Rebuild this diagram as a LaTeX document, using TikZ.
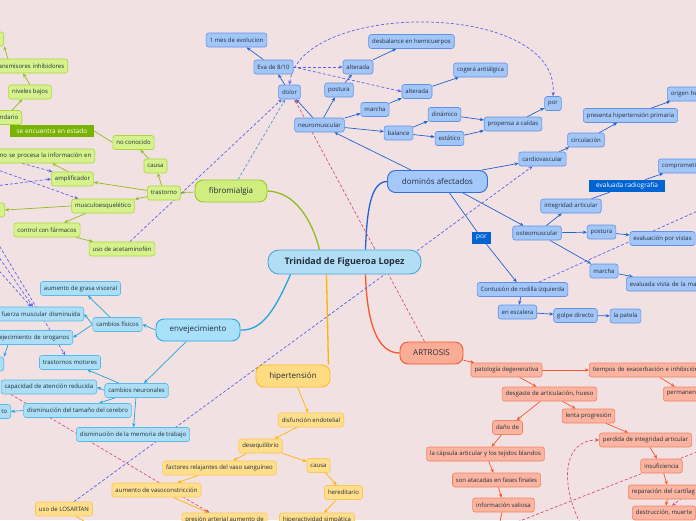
\documentclass[tikz,border=0pt]{standalone}
\usepackage{fontspec}
\setmainfont{Open Sans}
\usepackage{tikz}
\usetikzlibrary{positioning, arrows.meta}
\definecolor{bgpink}{RGB}{242,225,226}
\definecolor{inktext}{RGB}{35,45,60}
\definecolor{rootfill}{RGB}{178,222,245}
\definecolor{rootedge}{RGB}{70,165,225}
\definecolor{fibfill}{RGB}{208,238,128}
\definecolor{fibedge}{RGB}{150,200,40}
\definecolor{fibleaf}{RGB}{214,242,140}
\definecolor{fibleafedge}{RGB}{170,215,60}
\definecolor{fibline}{RGB}{140,190,30}
\definecolor{domfill}{RGB}{165,200,250}
\definecolor{domedge}{RGB}{50,110,220}
\definecolor{domleaf}{RGB}{162,198,248}
\definecolor{domleafedge}{RGB}{95,145,228}
\definecolor{domline}{RGB}{30,100,210}
\definecolor{envfill}{RGB}{168,224,250}
\definecolor{envedge}{RGB}{40,170,230}
\definecolor{envleaf}{RGB}{172,222,246}
\definecolor{envleafedge}{RGB}{90,185,232}
\definecolor{envline}{RGB}{30,165,225}
\definecolor{hipfill}{RGB}{255,220,130}
\definecolor{hipedge}{RGB}{255,185,40}
\definecolor{hipleaf}{RGB}{255,222,140}
\definecolor{hipleafedge}{RGB}{250,200,90}
\definecolor{hipline}{RGB}{255,180,0}
\definecolor{artfill}{RGB}{250,172,148}
\definecolor{artedge}{RGB}{240,90,50}
\definecolor{artleaf}{RGB}{250,180,160}
\definecolor{artleafedge}{RGB}{240,130,100}
\definecolor{artline}{RGB}{250,85,40}
\definecolor{dashblue}{RGB}{90,100,235}
\definecolor{dashteal}{RGB}{70,160,200}
\definecolor{dashred}{RGB}{215,80,120}
\definecolor{taggreen}{RGB}{120,180,0}
\definecolor{tagblue}{RGB}{0,100,210}
\pgfdeclarelayer{back}
\pgfdeclarelayer{links}
\pgfsetlayers{back,links,main}
\tikzset{>={Stealth[length=4pt,width=3.4pt]}, x=1pt, y=-1pt, cutl/.style={anchor=east, align=right, text width=#1}, cutr/.style={anchor=west, align=left, text width=#1}, link/.style={->, line width=0.7pt}, branch/.style={line width=1.3pt}, reldash/.style={dash pattern=on 3pt off 2pt, line width=0.7pt, dashblue}}
\tikzstyle{leaf}=[draw, rounded corners=2.5pt, line width=0.6pt, minimum height=14pt, inner xsep=3.5pt, inner ysep=1pt, font=\fontsize{6}{7}\selectfont, text=inktext]
\tikzstyle{gleaf}=[leaf, fill=fibleaf, draw=fibleafedge]
\tikzstyle{bleaf}=[leaf, fill=domleaf, draw=domleafedge]
\tikzstyle{cleaf}=[leaf, fill=envleaf, draw=envleafedge]
\tikzstyle{yleaf}=[leaf, fill=hipleaf, draw=hipleafedge]
\tikzstyle{rleaf}=[leaf, fill=artleaf, draw=artleafedge]
\tikzstyle{topic}=[draw, rounded corners=8pt, line width=0.9pt, minimum height=22pt, font=\fontsize{8}{9}\selectfont, text=inktext]
\tikzstyle{tag}=[minimum height=12pt, inner xsep=3pt, inner ysep=1pt, font=\fontsize{6.5}{7}\selectfont, text=white]
\tikzstyle{root}=[draw=rootedge, fill=rootfill, rounded corners=11pt, line width=0.9pt, minimum width=153pt, minimum height=24pt, font=\fontsize{9}{10}\selectfont\bfseries, text=inktext]

\begin{document}
\begin{tikzpicture}
\useasboundingbox (0,0) rectangle (696,520);
\begin{pgfonlayer}{back}
\fill[bgpink] (0,0) rectangle (696,520);
\end{pgfonlayer}
\node[root] (trinidad) at (344.5,262) {Trinidad de Figueroa Lopez};
\node[topic, fill=fibfill, draw=fibedge, minimum width=72pt] (fibromialgia) at (231,191) {fibromialgia};
\node[topic, fill=domfill, draw=domedge, minimum width=100pt] (dominos) at (437.5,181.5) {dominós afectados};
\node[topic, fill=envfill, draw=envedge, minimum width=84pt] (envejecimiento) at (198,330) {envejecimiento};
\node[topic, fill=hipfill, draw=hipedge, minimum width=74pt] (hipertension) at (293,376) {hipertensión};
\node[topic, fill=artfill, draw=artedge, minimum width=63pt] (artrosis) at (431.5,353) {ARTROSIS};
\node[gleaf] (trastorno) at (164,193) {trastorno};
\node[gleaf] (causaF) at (155.5,166) {causa};
\node[gleaf] (noconocido) at (133.5,142.5) {no conocido};
\node[tag, fill=taggreen, minimum width=84pt] (seencuentra) at (52,131) {se encuentra en estado};
\node[gleaf, cutl=30pt] (secundario) at (22,117.5) {ndario};
\node[gleaf] (niveles) at (30,92) {niveles bajos};
\node[gleaf, cutl=70pt] (transmisores) at (68,66) {ansmisores inhibidores};
\node[gleaf, cutl=30pt] (topleft) at (4,39) {};
\node[gleaf] (amplificador) at (72.5,179) {amplificador};
\node[gleaf, cutl=100pt] (comoprocesa) at (95,156) {mo se procesa la información en};
\node[gleaf] (musculo) at (103,206) {musculoesquelético};
\node[gleaf, cutl=30pt] (leftbox) at (5,210) {};
\node[gleaf] (control) at (47,230) {control con fármacos};
\node[gleaf] (acetaminofen) at (122,249) {uso de acetaminofén};
\node[bleaf] (neuromuscular) at (319.5,125) {neuromuscular};
\node[bleaf] (dolor) at (289.5,92) {dolor};
\node[bleaf] (eva) at (273.5,67) {Eva de 8/10};
\node[bleaf] (unmes) at (236.5,40) {1 mes de evolucion};
\node[bleaf] (postura) at (339,90) {postura};
\node[bleaf] (alterada1) at (358,67) {alterada};
\node[bleaf] (desbalance) at (411.5,41.5) {desbalance en hemicuerpos};
\node[bleaf] (marcha) at (375,109.5) {marcha};
\node[bleaf] (alterada2) at (417,91.5) {alterada};
\node[bleaf] (cogera) at (480.5,70) {cogerá antiálgica};
\node[bleaf] (balance) at (398.5,133) {balance};
\node[bleaf] (dinamico) at (444.5,114.5) {dinámico};
\node[bleaf] (estatico) at (449.5,138.5) {estático};
\node[bleaf] (propensa) at (513,124) {propensa a caídas};
\node[bleaf] (por) at (553,103.5) {por};
\node[bleaf] (cardiovascular) at (542.5,159) {cardiovascular};
\node[bleaf] (circulacion) at (586,140) {circulación};
\node[bleaf] (presenta) at (630.5,115.5) {presenta hipertensión primaria};
\node[bleaf, cutr=40pt] (origen) at (667,94) {origen he};
\node[bleaf, cutr=45pt] (comprometi) at (658,166) {comprometi};
\node[tag, fill=tagblue, minimum width=76pt] (radiografia) at (627,186) {evaluada radiografía};
\node[bleaf] (integridad) at (571,206) {integridad articular};
\node[bleaf] (osteomuscular) at (537,233) {osteomuscular};
\node[bleaf] (postura2) at (601.5,232) {postura};
\node[bleaf] (evalvistas) at (662.5,238.5) {evaluación por vistas};
\node[bleaf, cutr=80pt] (evalmarcha) at (626,284) {evaluada vista de la ma};
\node[bleaf] (marcha2) at (604,271) {marcha};
\node[tag, fill=tagblue, minimum width=19pt] (portag) at (481.5,238) {por};
\node[bleaf] (contusion) at (522.5,289.5) {Contusión de rodilla izquierda};
\node[bleaf] (escalera) at (517.5,312) {en escalera};
\node[bleaf] (golpe) at (575.5,315.5) {golpe directo};
\node[bleaf] (patela) at (625.5,316) {la patela};
\node[cleaf] (cambiosfis) at (117.5,324.5) {cambios físicos};
\node[cleaf] (grasa) at (80.5,288.5) {aumento de grasa visceral};
\node[cleaf, cutl=85pt] (fuerza) at (84,314) {fuerza muscular disminuida};
\node[cleaf, cutl=80pt] (oroganos) at (73,337.5) {ejecimiento de oroganos};
\node[cleaf, cutl=30pt] (leftbox2) at (4,364) {};
\node[cleaf] (trastmot) at (70,362.5) {trastornos motores};
\node[cleaf] (cambiosneu) at (136.5,390.5) {cambios neuronales};
\node[cleaf, anchor=east] (capacidad) at (97,387) {capacidad de atención reducida};
\node[cleaf] (tamano) at (77.5,410.5) {disminución del tamaño del cerebro};
\node[cleaf, cutl=30pt] (tobox) at (11,411.5) {to};
\node[cleaf] (memoria) at (133,434.5) {disminución de la memoria de trabajo};
\node[yleaf] (disfuncion) at (311,420) {disfunción endotelial};
\node[yleaf] (desequilibrio) at (260.5,446) {desequilibrio};
\node[yleaf] (factores) at (219.5,468) {factores relajantes del vaso sanguíneo};
\node[yleaf] (causaH) at (318.5,465.5) {causa};
\node[yleaf] (hereditario) at (343.5,492.5) {hereditario};
\node[yleaf] (hiperact) at (317,520) {hiperactividad simpática};
\node[yleaf] (vasocons) at (156.5,490) {aumento de vasoconstricción};
\node[yleaf] (presion) at (224.5,520) {presión arterial aumento de};
\node[yleaf] (losartan) at (64,509) {uso de LOSARTAN};
\node[rleaf] (patologia) at (506.5,370) {patología degenerativa};
\node[rleaf, cutr=110pt] (tiempos) at (589,370) {tiempos de exacerbación e inhibición};
\node[rleaf, cutr=40pt] (permanen) at (663,394) {permanen};
\node[rleaf] (desgaste) at (549.5,394) {desgaste de articulación, hueso};
\node[rleaf] (lenta) at (588.5,416) {lenta progresión};
\node[rleaf] (perdida) at (645.5,440) {perdida de integridad articular};
\node[rleaf] (insuficiencia) at (661.5,466) {insuficiencia};
\node[rleaf, cutr=75pt] (reparacion) at (628,492) {reparación del cartílag};
\node[rleaf] (destruccion) at (664,513) {destrucción, muerte};
\node[rleaf] (dano) at (507.5,427.5) {daño de};
\node[rleaf] (capsula) at (485.5,454) {la cápsula articular y los tejidos blandos};
\node[rleaf] (atacadas) at (496.5,480) {son atacadas en fases finales};
\node[rleaf] (valiosa) at (503.5,505) {información valiosa};
\coordinate (offL1) at (-5,186);
\coordinate (offL2) at (-5,169);
\coordinate (offL3) at (-14,256);
\coordinate (offL4) at (-6,250);
\coordinate (offL5) at (-3,242);
\coordinate (offR1) at (720,201);
\coordinate (offR2) at (702,450);
\coordinate (offR3) at (706,480);
\coordinate (offB1) at (585,532);
\coordinate (offB2) at (512,524);
\coordinate (offB3) at (92,526);
\coordinate (offB4) at (499,526);
\begin{pgfonlayer}{links}
\draw[branch, fibline] ([xshift=-25pt]trinidad.north) .. controls (312,220) and (295,192) .. (fibromialgia.east);
\draw[branch, domline] ([xshift=21pt]trinidad.north) .. controls (367,205) and (372,182) .. (dominos.west);
\draw[branch, envline] ([xshift=-54pt]trinidad.south) .. controls (275,310) and (262,331) .. (envejecimiento.east);
\draw[branch, hipline] ([xshift=-18pt]trinidad.south) -- ([xshift=-2pt]hipertension.north east);
\draw[branch, artline] ([xshift=21pt]trinidad.south) .. controls (367,325) and (378,353) .. (artrosis.west);
\draw[link, fibline] (fibromialgia) -- (trastorno);
\draw[link, fibline] (trastorno) -- (causaF);
\draw[link, fibline] (causaF) -- (noconocido);
\draw[line width=0.7pt, fibline] (noconocido.west) -- (seencuentra.east);
\draw[link, fibline] ([xshift=-10pt]secundario.north east) -- ([xshift=14pt]niveles.south west);
\draw[link, fibline] (niveles.north) -- ([xshift=-45pt]transmisores.south east);
\draw[link, fibline] ([xshift=-60pt]transmisores.north east) -- (topleft.south east);
\draw[link, fibline] (trastorno) -- (amplificador);
\draw[link, fibline] (amplificador.120) -- ([xshift=-43pt]comoprocesa.south east);
\draw[link, fibline] (trastorno) -- (musculo);
\draw[link, fibline] (musculo.west) -- (leftbox.east);
\draw[link, fibline] (musculo) -- (control);
\draw[link, fibline] (control) -- (acetaminofen);
\draw[link, domline] ([xshift=24pt]dominos.north west) -- (neuromuscular);
\draw[link, domline] (neuromuscular) -- (dolor);
\draw[link, domline] (dolor) -- (eva);
\draw[link, domline] (eva) -- (unmes);
\draw[link, domline] (neuromuscular) -- (postura);
\draw[link, domline] (postura) -- (alterada1);
\draw[link, domline] (alterada1) -- (desbalance);
\draw[link, domline] (neuromuscular) -- (marcha);
\draw[link, domline] (marcha) -- (alterada2);
\draw[link, domline] (alterada2) -- (cogera);
\draw[link, domline] (neuromuscular) -- (balance);
\draw[link, domline] (balance) -- (dinamico);
\draw[link, domline] (balance) -- (estatico);
\draw[link, domline] (dinamico) -- (propensa);
\draw[link, domline] (estatico) -- (propensa);
\draw[link, domline] (propensa) -- (por);
\draw[link, domline] ([xshift=-6pt]dominos.north east) -- (cardiovascular);
\draw[link, domline] (cardiovascular) -- (circulacion);
\draw[link, domline] (circulacion) -- (presenta);
\draw[link, domline] (presenta) -- (origen);
\draw[link, domline] ([xshift=-25pt]dominos.south east) -- (osteomuscular);
\draw[link, domline] (osteomuscular) -- (integridad);
\draw[line width=0.7pt, domline] (integridad) -- (radiografia);
\draw[link, domline] (radiografia) -- (comprometi);
\draw[link, domline] (osteomuscular) -- (postura2);
\draw[link, domline] (postura2) -- (evalvistas);
\draw[link, domline] (osteomuscular) -- (marcha2);
\draw[link, domline] (marcha2) -- (evalmarcha);
\draw[line width=0.7pt, domline] ([xshift=12pt]dominos.south) -- (portag);
\draw[link, domline] (portag) -- (contusion);
\draw[link, domline] (contusion) -- (escalera);
\draw[link, domline] (escalera) -- (golpe);
\draw[link, domline] (golpe) -- (patela);
\draw[link, envline] (envejecimiento.west) -- (cambiosfis.east);
\draw[link, envline] (cambiosfis) -- (grasa);
\draw[link, envline] (cambiosfis.west) -- (fuerza.east);
\draw[link, envline] (cambiosfis.west) -- (oroganos.east);
\draw[link, envline] ([xshift=-65pt]oroganos.south east) -- (leftbox2.north east);
\draw[link, envline] (envejecimiento) -- (cambiosneu);
\draw[link, envline] (cambiosneu) -- (trastmot);
\draw[link, envline] (cambiosneu.west) -- (capacidad.east);
\draw[link, envline] (cambiosneu) -- (tamano);
\draw[link, envline] (tamano.west) -- (tobox.east);
\draw[link, envline] (cambiosneu) -- (memoria);
\draw[link, hipline] (hipertension) -- (disfuncion);
\draw[link, hipline] (disfuncion) -- (desequilibrio);
\draw[link, hipline] (desequilibrio) -- (factores);
\draw[link, hipline] (desequilibrio) -- (causaH);
\draw[link, hipline] (causaH) -- (hereditario);
\draw[link, hipline] (hereditario) -- (hiperact);
\draw[link, hipline] (factores) -- (vasocons);
\draw[link, hipline] (vasocons) -- (presion);
\draw[line width=0.7pt, hipline] (losartan) -- (offB3);
\draw[link, artline] (artrosis) -- (patologia);
\draw[link, artline] (patologia) -- (tiempos);
\draw[link, artline] (tiempos) -- (permanen);
\draw[link, artline] (patologia) -- (desgaste);
\draw[link, artline] (desgaste) -- (lenta);
\draw[link, artline] (lenta) -- (perdida);
\draw[link, artline] (perdida) -- (insuficiencia);
\draw[link, artline] (insuficiencia) -- (reparacion);
\draw[link, artline] (reparacion) -- (destruccion);
\draw[link, artline] (desgaste) -- (dano);
\draw[link, artline] (dano) -- (capsula);
\draw[link, artline] (capsula) -- (atacadas);
\draw[link, artline] (atacadas) -- (valiosa);
\draw[line width=0.7pt, artline] (valiosa) -- (offB4);
\draw[reldash, ->] (acetaminofen) -- (dolor);
\draw[reldash, dashteal, ->] ([xshift=7pt]fibromialgia.north) -- (dolor);
\draw[reldash, dashred, ->] ([xshift=-7pt]artrosis.north) -- ([xshift=5pt]dolor.south);
\draw[reldash, <->] (dolor.north) .. controls (300,0) and (560,0) .. (por.north);
\draw[reldash, ->] (eva.east) -- (alterada1.west);
\draw[reldash, ->] (eva.east) -- (alterada2.west);
\draw[reldash, ->] (losartan) -- (cardiovascular);
\draw[reldash] (contusion) -- (offR1);
\draw[reldash, ->] ([xshift=-73pt]comoprocesa.south east) -- (amplificador.160);
\draw[reldash, ->] (offL1) -- (amplificador.west);
\draw[reldash, ->] (offL2) -- ([xshift=7pt]musculo.north west);
\draw[reldash, ->] (offL3) -- ([xshift=-53pt]fuerza.north east);
\draw[reldash, ->] (offL4) -- ([xshift=-51pt]fuerza.north east);
\draw[reldash, ->] (offL5) -- ([xshift=26pt]trastmot.north west);
\draw[reldash, dashred, ->] ([xshift=10pt]capacidad.south west) -- ([xshift=28pt]presion.north west);
\draw[reldash, dashred, ->] (offB1) .. controls (560,490) and (560,440) .. (perdida.west);
\draw[reldash, dashred] (offR2) -- (offB2);
\draw[reldash, dashred, ->] (offR3) -- ([xshift=8pt]destruccion.north);
\end{pgfonlayer}
\end{tikzpicture}
\end{document}
